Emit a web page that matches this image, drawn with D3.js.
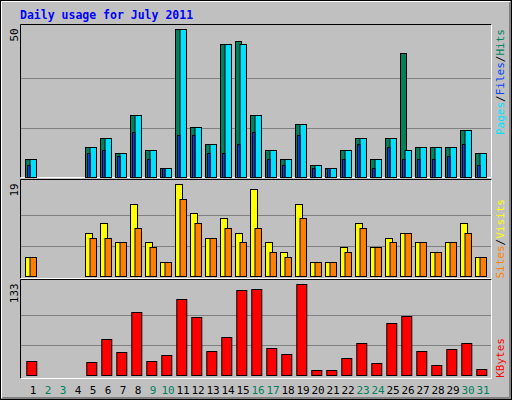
<!DOCTYPE html>
<html><head><meta charset="utf-8">
<script src="https://cdn.jsdelivr.net/npm/d3@7"></script>
<style>body{margin:0;background:#fff}svg{display:block}text{font-family:"DejaVu Sans Mono",monospace}</style>
</head><body><svg id="c" width="512" height="400"></svg>
<script>
const days = d3.range(1,32);
const weekend = [2,3,9,10,16,17,23,24,30,31];
const hits  = [6,0,0,0,10,13,8,21,9,3,50,17,11,45,46,21,9,6,18,4,3,9,13,6,13,42,10,10,10,16,8];
const files = [6,0,0,0,10,13,8,21,9,3,50,17,11,45,45,21,9,6,18,4,3,9,13,6,13,9,10,10,10,16,8];
const pages = [4,0,0,0,8,9,7,15,6,3,14,14,8,8,11,15,6,4,14,3,3,6,11,3,10,6,6,6,7,11,4];
const visits= [4,0,0,0,9,11,7,15,7,3,19,13,8,12,9,18,7,5,15,3,3,6,11,6,8,9,7,5,7,11,4];
const sites = [4,0,0,0,8,8,7,10,6,3,16,11,8,10,7,10,5,4,12,3,3,5,10,6,7,9,7,5,7,9,4];
const kbytes= [20.5,0,0,0,19,52.6,33.6,92,20.5,29,111,85,35,55.5,124,125.7,39.5,30.7,133,7.3,7.3,24.8,46.8,17.5,76,86,35,14.6,38,46.8,8.8];

const svg = d3.select("#c");
svg.append("rect").attr("x",0).attr("y",0).attr("width",512).attr("height",400).attr("fill","#C0C0C0");
// bevel
svg.append("rect").attr("x",0.5).attr("y",0.5).attr("width",511).attr("height",399).attr("fill","none").attr("stroke","#000");
svg.append("path").attr("d","M1.5,398.5V1.5H510.5").attr("stroke","#fff").attr("fill","none");
svg.append("path").attr("d","M1.5,398.5H510.5V1.5").attr("stroke","#808080").attr("fill","none");
svg.append("path").attr("d","M2.5,397.5H509.5V2.5").attr("stroke","#808080").attr("fill","none");

svg.append("text").attr("x",20).attr("y",19).attr("fill","#0000FF").attr("font-weight","bold")
  .attr("font-size","11.5px").text("Daily usage for July 2011");

const x = d3.scaleLinear().domain([1,31]).range([25,475]);

function panel(top,bottom,base,topv,max,label){
  svg.append("rect").attr("x",20.5).attr("y",top+0.5).attr("width",470).attr("height",bottom-top).attr("fill","#C0C0C0");
  svg.append("path").attr("d",`M20.5,${bottom+0.5}V${top+0.5}H491.5`).attr("stroke","#000").attr("fill","none");
  svg.append("path").attr("d",`M20.5,${bottom+0.5}H491.5V${top+0.5}`).attr("stroke","#fff").attr("fill","none");
  const y = d3.scaleLinear().domain([0,max]).range([base,topv]);
  [max/3,2*max/3].forEach(v=>svg.append("line").attr("x1",21).attr("x2",491)
     .attr("y1",Math.round(y(v))+0.5).attr("y2",Math.round(y(v))+0.5).attr("stroke","#808080"));
  svg.append("text").attr("transform",`translate(18,${topv-1}) rotate(-90)`).attr("text-anchor","end")
     .attr("font-size","11px").attr("fill","#000").text(label);
  return y;
}
function bars(data,y,dx,w,color){
  svg.append("g").selectAll("rect").data(days.filter((d,i)=>data[i]>0)).join("rect")
    .attr("x",d=>x(d)+dx+0.5).attr("width",w).attr("y",d=>Math.round(y(data[d-1]))+0.5)
    .attr("height",d=>Math.round(y(0))-Math.round(y(data[d-1])))
    .attr("fill",color).attr("stroke","#000");
}
function sideLabel(parts,yTop){
  const t = svg.append("text").attr("transform",`translate(504,${yTop}) rotate(-90)`).attr("text-anchor","end").attr("font-size","11px");
  parts.forEach(p=>t.append("tspan").attr("fill",p[1]).text(p[0]));
}

const y1 = panel(24,177,176.7,29.3,50,"50");
bars(hits,y1,0,6,"#00805C");
bars(files,y1,4.5,6.5,"#00E0FF");
bars(pages,y1,2,2.5,"#0040FF");
sideLabel([["Pages","#00E0FF"],["/","#000"],["Files","#0040FF"],["/","#000"],["Hits","#00805C"]],29);

const y2 = panel(179,278,276.3,184.3,19,"19");
bars(visits,y2,0,7,"#FFFF00");
bars(sites,y2,4.5,6.5,"#FF8000");
sideLabel([["Sites","#FF8000"],["/","#000"],["Visits","#FFFF00"]],199);

const y3 = panel(279,378,375.3,284.3,133,"133");
bars(kbytes,y3,1.3,10,"#FF0000");
sideLabel([["KBytes","#FF0000"]],338);

svg.append("g").selectAll("text").data(days).join("text")
  .attr("x",d=>x(d)+8).attr("y",394).attr("text-anchor","middle").attr("font-size","11px")
  .attr("fill",d=>weekend.includes(d)?"#00805C":"#000").text(d=>d);
</script></body></html>
